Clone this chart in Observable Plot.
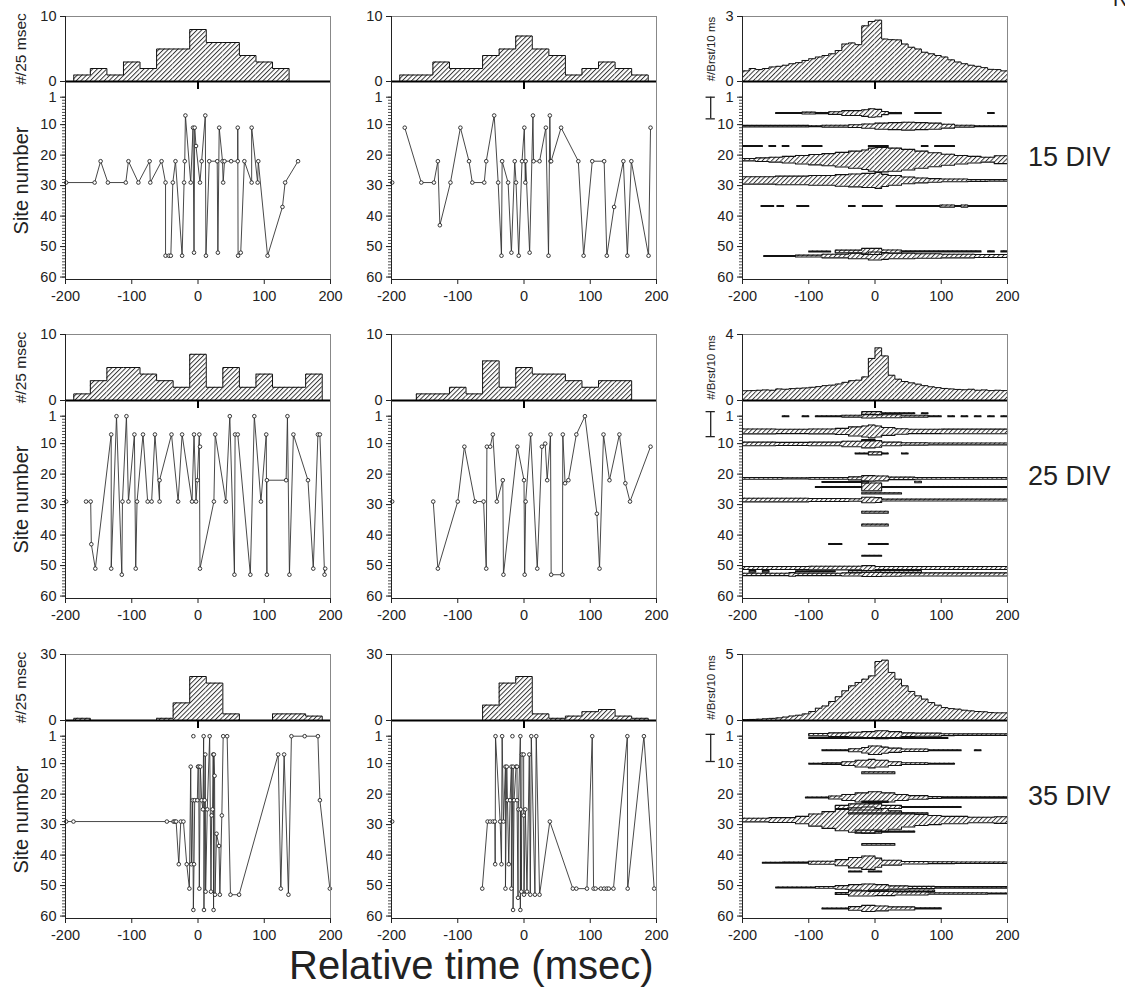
<!DOCTYPE html>
<html><head><meta charset="utf-8">
<script src="https://cdn.jsdelivr.net/npm/d3@7"></script>
<script src="https://cdn.jsdelivr.net/npm/@observablehq/plot@0.6"></script>
<style>
body{margin:0;background:#fff;font-family:"Liberation Sans",Arial,sans-serif;}
#root{position:relative;width:1125px;height:995px;overflow:hidden;background:#fff;}
#root svg{position:absolute;overflow:visible;background:transparent;}
.lbl{position:absolute;color:#222;line-height:1;white-space:nowrap;font-family:"Liberation Sans",Arial,sans-serif;}
</style></head><body>
<svg width="0" height="0" style="position:absolute"><defs>
<pattern id="hatch" width="3.3" height="3.3" patternUnits="userSpaceOnUse" patternTransform="rotate(45)">
<rect width="3.3" height="3.3" fill="white"/><line x1="0.5" y1="0" x2="0.5" y2="3.3" stroke="#222" stroke-width="0.9"/></pattern>
</defs></svg>
<div id="root"></div>
<script>
// ---------------- DATA ----------------
const xTicks = [-200, -100, 0, 100, 200];
const siteTicks = [1, 10, 20, 30, 40, 50, 60];
const rowLabels = ["15 DIV", "25 DIV", "35 DIV"];
const xTitle = "Relative time (msec)";
const siteTitle = "Site number";
const hist25Title = "#/25 msec";
const hist10Title = "#/Brst/10 ms";

// 25-ms histogram bin centers (columns 1 and 2)
const centers25 = [-175, -150, -125, -100, -75, -50, -25, 0, 25, 50, 75, 100, 125, 150, 175];
const hist15A = [1, 2, 1, 3, 2, 5, 5, 8, 6, 6, 4, 3, 2, 0, 0];
const hist15B = [1, 1, 3, 2, 2, 4, 5, 7, 5, 4, 1, 2, 3, 2, 1];
const hist25A = [1, 3, 5, 5, 4, 3, 2, 7, 2, 5, 2, 4, 2, 2, 4];
const hist25B = [0, 1, 1, 2, 1, 6, 2, 5, 4, 4, 3, 2, 3, 3, 0];
const hist35A = [1, 0, 0, 0, 0, 1, 8, 20, 17, 3, 0, 0, 3, 3, 2];
const hist35B = [0, 0, 0, 0, 0, 7, 17, 20, 3, 1, 2, 4, 5, 2, 1];
const histMax = [10, 10, 30];

// 10-ms bins (column 3), left edges
const edges10 = [-200,-190,-180,-170,-160,-150,-140,-130,-120,-110,-100,-90,-80,-70,-60,-50,-40,-30,-20,-10,
                 0,10,20,30,40,50,60,70,80,90,100,110,120,130,140,150,160,170,180,190];
const brst15 = [0.49,0.6,0.55,0.6,0.67,0.7,0.75,0.82,0.87,0.97,1.05,1.13,1.2,1.28,1.43,1.73,1.78,1.7,2.57,2.77,
                2.83,1.96,1.93,1.92,1.73,1.58,1.5,1.35,1.28,1.2,1.13,1.0,0.9,0.82,0.75,0.7,0.64,0.56,0.55,0.49];
const brst25 = [0.59,0.6,0.62,0.64,0.62,0.7,0.68,0.72,0.74,0.76,0.8,0.84,0.9,0.93,1.0,1.1,1.2,1.23,1.43,2.55,
                3.19,2.7,1.53,1.29,1.15,1.07,0.99,0.9,0.83,0.78,0.73,0.7,0.67,0.65,0.68,0.62,0.64,0.6,0.62,0.6];
const brst35 = [0.06,0.08,0.1,0.13,0.16,0.2,0.26,0.34,0.4,0.5,0.68,0.93,1.1,1.44,1.8,2.25,2.63,2.88,3.13,3.38,
                4.47,4.57,3.64,3.13,2.63,2.2,1.87,1.62,1.36,1.16,0.98,0.9,0.86,0.78,0.73,0.68,0.66,0.6,0.58,0.58];
const brstMax = [3, 4, 5];

// Site sequences [time ms, site]
const sites15A = [[-199,29],[-156,29],[-147,22],[-136,29],[-109,29],[-105,22],[-90,29],[-73,22],[-72,29],[-55,22],[-49,29],[-49,53],[-44,53],[-41,53],[-38,29],[-34,22],[-24,53],[-21,29],[-20,22],[-19,7],[-11,29],[-7.5,11],[-6,52],[-5,11],[-3,17],[3,29],[5.5,22],[11,7],[12,53],[17,22],[29,22],[30,52],[32,11],[37,22],[38,29],[40,22],[50,22],[60,22],[60,11],[60.5,53],[64.5,52],[70,22],[81,29],[81,11],[90,29],[91,22],[105,53],[127.5,37],[131.5,29],[151,22]];
const sites15B = [[-180,11],[-155,29],[-136,29],[-130,22],[-127,43],[-111,29],[-96,11],[-83,22],[-78,29],[-60,29],[-57,22],[-45,7],[-39,29],[-34,53],[-33,22],[-24,29],[-19,52],[-14,22],[-12,29],[-8,53],[-3,22],[0.5,11],[2,29],[2.5,22],[8.5,52],[13.5,7],[14.5,22],[23.5,22],[33,11],[37,53],[39,7],[40,22],[41,22],[56,11],[82,22],[90,53],[103,22],[121,22],[125,53],[136,37],[150,22],[156,53],[162,22],[188,53],[191,11]];
const sites25A = [[-169,29],[-162,29],[-161,43],[-155,51],[-131,7],[-131,51],[-123,1],[-115,53],[-114,29],[-108,1],[-105,29],[-96,7],[-94,51],[-92,29],[-83,7],[-76,29],[-70,29],[-65,7],[-58,29],[-58,22],[-40,7],[-30,29],[-24,7],[-9,29],[-6,7],[-3,29],[-1,22],[2,7],[3,51],[24,29],[26,7],[42,29],[48,1],[55,53],[56,7],[60,7],[79,53],[85,1],[95,29],[103,7],[104,53],[104,22],[133,22],[135,1],[138,53],[144,7],[166,22],[174,51],[181,7],[184,7],[191,53],[192,51]];
const sites25B = [[-137,29],[-130,51],[-100,29],[-90,11],[-74,29],[-61,29],[-57,51],[-56,11],[-51,11],[-47,7],[-41,29],[-32,22],[-31,53],[-10,11],[0,22],[1,53],[2.5,29],[10,7],[20,51],[27,11],[32,10],[35,22],[40,7],[41,53],[58,53],[58.6,7],[62,23],[67,22],[79,7],[92,1],[110,33],[114,51],[120,7],[129,22],[144,7],[153,23],[160,29],[191,11]];
const sites35A = [[-199,29],[-188,29],[-47,29],[-37,29],[-35,29],[-33,29],[-29,43],[-26,29],[-22,29],[-17,43],[-13,51],[-11,11],[-10,43],[-8,22],[-7,58],[-6,43],[-5,22],[-1,22],[0,11],[1,11],[2,51],[3.5,11],[5.5,22],[7.5,25],[8.5,1],[9,58],[10,22],[11,7],[11.5,52],[14,25],[17.6,1],[19.6,52],[20.6,27],[22,25],[23,7],[23.5,58],[24,7],[25,14],[25.7,53],[28,33],[31.7,37],[33,53],[36,27],[38,1],[44,1],[49,53],[62,53],[121,7],[125,51],[130,7],[136.5,53],[141,1],[161,1],[181,1],[184,22],[199,51]];
const sites35B = [[-63,51],[-55,29],[-51,29],[-47,29],[-44,29],[-43.5,43],[-43,1],[-36,29],[-34,43],[-33,1],[-31,29],[-28,11],[-28,51],[-26,11],[-25,22],[-23,43],[-21,22],[-19,11],[-19,51],[-16.5,11],[-16.5,58],[-15,22],[-12,11],[-10.5,11],[-10.5,22],[-9,54],[-8.5,25],[-5.5,1],[-5.5,58],[-5,25],[-4,52],[-3,7],[-0.5,7],[-0.5,27],[0,53],[2,25],[4.5,52],[8,7],[9.5,53],[11,1],[16.5,53],[18.5,1],[23.5,53],[39,29],[73.7,51],[79,51],[95,51],[103,1],[105,51],[108,51],[116,51],[121,51],[125,51],[128,51],[135,51],[156,1],[156.5,51],[181,1],[196.5,51]];
// unconnected points
const loose15A = [];
const loose15B = [[-199,29]];
const loose25A = [[-199,29],[3,11]];
const loose25B = [[-199,29]];
const loose35A = [[-7,1]];
const loose35B = [[-199,29],[-17.5,1]];

// Column 3 per-site profiles: site, segments [t1, t2, width in site units]
const spindles15 = [
 {s:6.2, segs:[[-150,-110,0.3],[-110,-90,0.6],[-90,-70,0.4],[-70,-50,0.9],[-50,-20,1.6],[-20,-10,2.2],[-10,0,2.8],[0,10,2.4],[10,20,1.0],[20,40,0.4],[60,100,0.3],[170,180,0.3]]},
 {s:10.5, segs:[[-200,-100,0.5],[-100,-80,0.3],[-80,-40,0.6],[-40,-20,0.9],[-20,0,1.4],[0,20,2.0],[20,40,2.3],[40,60,2.6],[60,80,2.3],[80,100,2.0],[100,120,1.3],[120,150,0.6],[150,200,0.3]]},
 {s:17, segs:[[-200,-170,0.3],[-160,-150,0.3],[-140,-130,0.3],[-110,-80,0.3],[-10,20,0.3],[70,80,0.3],[90,120,0.3]]},
 {s:21.5, segs:[[-200,-180,0.8],[-180,-160,1.2],[-160,-140,1.6],[-140,-120,2.2],[-120,-100,2.8],[-100,-80,3.4],[-80,-60,4.0],[-60,-40,4.8],[-40,-20,5.6],[-20,-10,6.4],[-10,0,7.6],[0,20,8.0],[20,40,7.6],[40,60,6.8],[60,80,5.6],[80,100,4.6],[100,120,3.6],[120,140,2.8],[140,160,2.2],[160,180,1.6],[180,200,2.6]]},
 {s:28.3, segs:[[-200,-150,2.4],[-150,-100,2.8],[-100,-60,3.2],[-60,-40,3.8],[-40,-20,4.2],[-20,0,4.6],[0,10,5.2],[10,20,4.0],[20,40,3.2],[40,60,2.2],[60,80,1.6],[80,100,1.2],[100,140,0.9],[140,170,0.6],[170,200,0.5]]},
 {s:36.7, segs:[[-172,-153,0.3],[-148,-138,0.3],[-118,-100,0.3],[-40,-30,0.3],[-19,11,0.3],[32,98,0.3],[98,120,0.7],[120,130,0.3],[130,140,0.7],[140,200,0.3]]},
 {s:51.6, segs:[[-100,-67,0.3],[-60,-20,0.9],[-20,10,2.0],[10,40,1.0],[40,160,0.4],[170,180,0.4],[190,200,0.4]]},
 {s:53.1, segs:[[-168,-120,0.3],[-120,-80,0.6],[-80,-40,1.2],[-40,-10,1.8],[-10,10,2.6],[10,20,2.2],[20,60,1.8],[60,100,1.5],[100,150,1.2],[150,200,1.0]]}
];
const spindles25 = [
 {s:0.0, segs:[[-20,10,1.0],[10,60,0.3],[70,80,0.3]]},
 {s:1.0, segs:[[-140,-130,0.3],[-110,-100,0.3],[-90,-50,0.3],[-50,-20,0.6],[-20,0,1.2],[0,40,1.0],[40,80,0.6],[80,100,0.3],[110,120,0.3],[130,140,0.3],[150,160,0.3],[170,180,0.3],[190,200,0.3]]},
 {s:6.0, segs:[[-200,-150,1.6],[-150,-100,1.4],[-100,-60,1.6],[-60,-40,2.0],[-40,-20,3.0],[-20,-10,3.6],[-10,0,4.2],[0,10,3.6],[10,30,2.6],[30,50,1.8],[50,100,1.4],[100,200,1.5]]},
 {s:8.9, segs:[[-20,0,0.4]]},
 {s:10.1, segs:[[-200,-150,1.2],[-150,-100,1.0],[-100,-50,1.2],[-50,-20,1.8],[-20,0,2.6],[0,10,2.2],[10,40,1.2],[40,80,0.8],[80,200,0.6]]},
 {s:13.2, segs:[[-30,-10,0.3],[-10,10,1.0],[10,20,0.3],[40,50,0.3]]},
 {s:21.4, segs:[[-200,-140,0.6],[-140,-100,0.4],[-100,-40,0.6],[-40,-20,1.0],[-20,0,1.8],[0,20,1.6],[20,60,0.8],[60,200,0.6]]},
 {s:22.6, segs:[[-80,-20,0.3],[-20,-10,0.6],[60,70,0.5]]},
 {s:24.2, segs:[[-90,-20,0.3],[-20,10,2.6],[10,200,0.3]]},
 {s:26.3, segs:[[-20,40,0.4]]},
 {s:28.5, segs:[[-200,-100,1.2],[-100,-40,1.0],[-40,-20,0.8],[-20,0,1.8],[0,10,1.6],[10,40,0.6],[40,200,0.6]]},
 {s:32.5, segs:[[-20,20,0.6]]},
 {s:36.7, segs:[[-20,20,0.6]]},
 {s:42.9, segs:[[-70,-50,0.3],[-10,20,0.3]]},
 {s:46.8, segs:[[-20,10,0.3]]},
 {s:50.8, segs:[[-200,-100,1.0],[-100,-40,1.2],[-40,-20,1.2],[-20,0,1.6],[0,40,1.0],[40,200,1.0]]},
 {s:51.9, segs:[[-190,-180,0.5],[-170,-160,0.5],[-120,-60,0.3],[-40,70,0.6]]},
 {s:52.9, segs:[[-200,-130,0.8],[-130,-120,1.2],[-120,-50,0.8],[-50,-20,1.0],[-20,10,1.4],[10,40,1.2],[40,200,1.0]]}
];
const spindles35 = [
 {s:0.5, segs:[[-100,-70,0.8],[-70,-40,1.2],[-40,-20,1.6],[-20,0,2.0],[0,20,2.6],[20,40,2.0],[40,60,1.2],[60,100,1.0],[100,120,0.6],[120,200,0.5]]},
 {s:1.6, segs:[[-100,110,0.3]]},
 {s:5.6, segs:[[-80,-60,0.3],[-60,-40,0.3],[-40,-20,1.0],[-20,-10,1.8],[-10,10,2.8],[10,20,2.0],[20,40,1.4],[40,80,0.8],[80,130,0.3],[150,160,0.3]]},
 {s:10, segs:[[-100,-80,0.3],[-80,-50,0.5],[-50,-30,1.2],[-30,-10,2.2],[-10,0,2.8],[0,20,2.2],[20,40,1.2],[40,80,0.6],[80,120,0.3]]},
 {s:13, segs:[[-20,30,0.6]]},
 {s:21.1, segs:[[-105,-70,0.3],[-70,-50,1.0],[-50,-30,2.0],[-30,-10,3.0],[-10,10,3.8],[10,30,3.0],[30,50,2.0],[50,80,1.2],[80,100,0.6],[100,200,0.4]]},
 {s:22.5, segs:[[-20,20,0.4]]},
 {s:24.2, segs:[[-60,-40,1.0],[-40,-10,2.0],[-10,10,2.0],[10,40,1.0],[40,130,0.3]]},
 {s:26.3, segs:[[-40,80,0.4]]},
 {s:28.5, segs:[[-200,-160,1.2],[-160,-120,1.6],[-120,-100,2.4],[-100,-80,4.0],[-80,-60,5.5],[-60,-40,7.0],[-40,-20,8.0],[-20,0,8.6],[0,20,7.6],[20,40,6.0],[40,60,4.6],[60,80,3.6],[80,100,3.0],[100,140,2.4],[140,180,1.8],[180,200,2.2]]},
 {s:32.3, segs:[[-30,10,1.0],[10,60,0.3]]},
 {s:36.5, segs:[[-20,30,0.5]]},
 {s:42.5, segs:[[-170,-140,0.3],[-140,-100,0.4],[-100,-60,1.0],[-60,-40,2.0],[-40,-20,3.4],[-20,0,4.4],[0,10,3.0],[10,40,1.6],[40,80,0.8],[80,120,0.6],[120,200,0.5]]},
 {s:45.4, segs:[[-40,-20,0.3],[-10,10,0.3]]},
 {s:50.6, segs:[[-150,-90,0.3],[-90,-60,0.6],[-60,-40,1.2],[-40,-20,1.8],[-20,0,2.2],[0,20,1.8],[20,50,1.0],[50,90,0.7],[90,200,0.5]]},
 {s:51.7, segs:[[-10,90,0.5]]},
 {s:52.6, segs:[[-60,-40,0.6],[-40,0,1.6],[0,30,1.4],[30,80,1.0],[80,170,0.5],[170,200,0.3]]},
 {s:57.5, segs:[[-80,-40,0.3],[-40,-20,1.2],[-20,0,2.0],[0,20,1.6],[20,60,1.0],[60,100,0.4]]}
];
// width scale bars (site units)
const scaleBars = [{lo:1, hi:8.1}, {lo:-0.5, hi:7.7}, {lo:0.4, hi:9.3}];

// ---------------- LAYOUT ----------------
const colX = [65, 391, 742];
const rows = [{top:16, base:81}, {top:334, base:400}, {top:654, base:720}];
const mL = 50, mR = 12, W = 265, SITE_H = 198, HT = 10, HB = 12;
const root = document.getElementById("root");
const font = "'Liberation Sans', Arial, Helvetica, sans-serif";
const baseStyle = {fontFamily: font, fontSize: "14px", color: "#222", background: "transparent", overflow: "visible"};
const fmt = d => String(d);

function place(svg, left, top) {
  svg.style.left = left + "px"; svg.style.top = top + "px";
  root.appendChild(svg);
}

function histPlot(bins, yMax, hh, label, labelSize, labelDx) {
  const outline = [[bins[0].x1, 0]];
  for (const b of bins) outline.push([b.x1, b.v], [b.x2, b.v]);
  outline.push([bins[bins.length - 1].x2, 0]);
  const marks = [
    Plot.rect(bins.filter(b => b.v > 0), {x1: "x1", x2: "x2", y1: 0, y2: "v", fill: "url(#hatch)"}),
    Plot.line(outline, {x: d => d[0], y: d => d[1], stroke: "#111", strokeWidth: 1}),
    Plot.frame({anchor: "top", stroke: "#888"}),
    Plot.frame({anchor: "right", stroke: "#888"}),
    Plot.frame({anchor: "left", stroke: "#222"}),
    Plot.ruleY([0], {stroke: "#000", strokeWidth: 2}),
    Plot.ruleX([0], {y1: 0, y2: -yMax * 8 / hh, stroke: "#000", strokeWidth: 2}),
    Plot.axisY([0, yMax], {tickSize: 5, fontSize: 14.5, label: null, tickFormat: fmt})
  ];
  if (label) marks.push(Plot.text([label], {frameAnchor: "left", rotate: -90, dx: labelDx, textAnchor: "middle", fontSize: labelSize, fill: "#222"}));
  return Plot.plot({
    width: mL + W + mR, height: HT + hh + HB, marginLeft: mL, marginRight: mR, marginTop: HT, marginBottom: HB,
    x: {domain: [-200, 200], label: null, axis: null},
    y: {domain: [0, yMax], label: null},
    style: baseStyle, marks
  });
}

function siteFrameMarks() {
  return [
    Plot.frame({anchor: "right", stroke: "#888"}),
    Plot.frame({anchor: "left", stroke: "#222"}),
    Plot.frame({anchor: "bottom", stroke: "#222"}),
    Plot.axisY(siteTicks, {tickSize: 5, fontSize: 14.5, label: null, tickFormat: fmt}),
    Plot.axisY(d3.range(1, 61), {tickSize: 3, tickFormat: () => "", label: null, strokeWidth: 0.8}),
    Plot.axisX(xTicks, {anchor: "bottom", tickSize: 5, tickPadding: 6, fontSize: 14.5, label: null, tickFormat: fmt})
  ];
}

function sitePlot(extraMarks) {
  return Plot.plot({
    width: mL + W + mR, height: SITE_H + 30, marginLeft: mL, marginRight: mR, marginTop: 0, marginBottom: 30,
    x: {domain: [-200, 200], label: null},
    y: {domain: [-4.15, 60.8], reverse: true, label: null},
    style: baseStyle,
    marks: [...extraMarks, ...siteFrameMarks()]
  });
}

function rasterMarks(pts, loose, withLabel) {
  const m = [
    Plot.line(pts, {x: d => d[0], y: d => d[1], stroke: "#333", strokeWidth: 0.9}),
    Plot.dot(pts.concat(loose), {x: d => d[0], y: d => d[1], r: 1.8, stroke: "#222", fill: "white", strokeWidth: 0.9})
  ];
  if (withLabel) m.push(Plot.text([siteTitle], {frameAnchor: "left", rotate: -90, dx: -44, textAnchor: "middle", fontSize: 20, fill: "#222"}));
  return m;
}

function spindleMarks(list, bar) {
  const rects = [], polys = [];
  list.forEach((sp, i) => {
    let run = [];
    const flush = () => {
      if (!run.length) return;
      const id = i + "-" + polys.length;
      const top = [], bot = [];
      for (const [t1, t2, w] of run) { top.push([t1, sp.s - w / 2], [t2, sp.s - w / 2]); bot.push([t1, sp.s + w / 2], [t2, sp.s + w / 2]); }
      const ring = top.concat(bot.reverse()); ring.push(ring[0]);
      ring.forEach(p => polys.push({id, x: p[0], y: p[1]}));
      run = [];
    };
    sp.segs.forEach(g => {
      if (run.length && run[run.length - 1][1] !== g[0]) flush();
      run.push(g);
      rects.push({x1: g[0], x2: g[1], y1: sp.s - g[2] / 2, y2: sp.s + g[2] / 2});
    });
    flush();
  });
  return [
    Plot.rect(rects, {x1: "x1", x2: "x2", y1: "y1", y2: "y2", fill: "url(#hatch)"}),
    Plot.line(polys, {x: "x", y: "y", z: "id", stroke: "#111", strokeWidth: 1.1}),
    Plot.ruleX([bar], {x: -248, y1: "lo", y2: "hi", stroke: "#222", strokeWidth: 1.3}),
    Plot.ruleY([bar], {y: "lo", x1: -255, x2: -241, stroke: "#222", strokeWidth: 1.3}),
    Plot.ruleY([bar], {y: "hi", x1: -255, x2: -241, stroke: "#222", strokeWidth: 1.3})
  ];
}

const hist25 = [hist15A, hist15B, hist25A, hist25B, hist35A, hist35B];
const rasters = [[sites15A, loose15A], [sites15B, loose15B], [sites25A, loose25A], [sites25B, loose25B], [sites35A, loose35A], [sites35B, loose35B]];
const brst = [brst15, brst25, brst35];
const spindles = [spindles15, spindles25, spindles35];

rows.forEach((r, ri) => {
  const hh = r.base - r.top;
  for (let ci = 0; ci < 2; ci++) {
    const vals = hist25[ri * 2 + ci];
    const bins = centers25.map((c, k) => ({x1: c - 12.5, x2: c + 12.5, v: vals[k]}));
    place(histPlot(bins, histMax[ri], hh, ci === 0 ? hist25Title : null, 15.5, -44), colX[ci] - mL, r.top - HT);
    const [pts, loose] = rasters[ri * 2 + ci];
    place(sitePlot(rasterMarks(pts, loose, ci === 0)), colX[ci] - mL, r.base);
  }
  const bins10 = edges10.map((e, k) => ({x1: e, x2: e + 10, v: brst[ri][k]}));
  place(histPlot(bins10, brstMax[ri], hh, hist10Title, 11.5, -31), colX[2] - mL, r.top - HT);
  place(sitePlot(spindleMarks(spindles[ri], scaleBars[ri])), colX[2] - mL, r.base);

  const d = document.createElement("div");
  d.className = "lbl"; d.textContent = rowLabels[ri];
  d.style.left = "1028px"; d.style.top = (r.base + 63) + "px"; d.style.fontSize = "27px";
  root.appendChild(d);
});

const xt = document.createElement("div");
xt.className = "lbl"; xt.textContent = xTitle;
xt.style.left = "289px"; xt.style.top = "945px"; xt.style.fontSize = "40px";
root.appendChild(xt);

const rr = document.createElement("div");
rr.className = "lbl"; rr.textContent = "R";
rr.style.left = "1113px"; rr.style.top = "-11px"; rr.style.fontSize = "20px";
root.appendChild(rr);
</script>
</body></html>
